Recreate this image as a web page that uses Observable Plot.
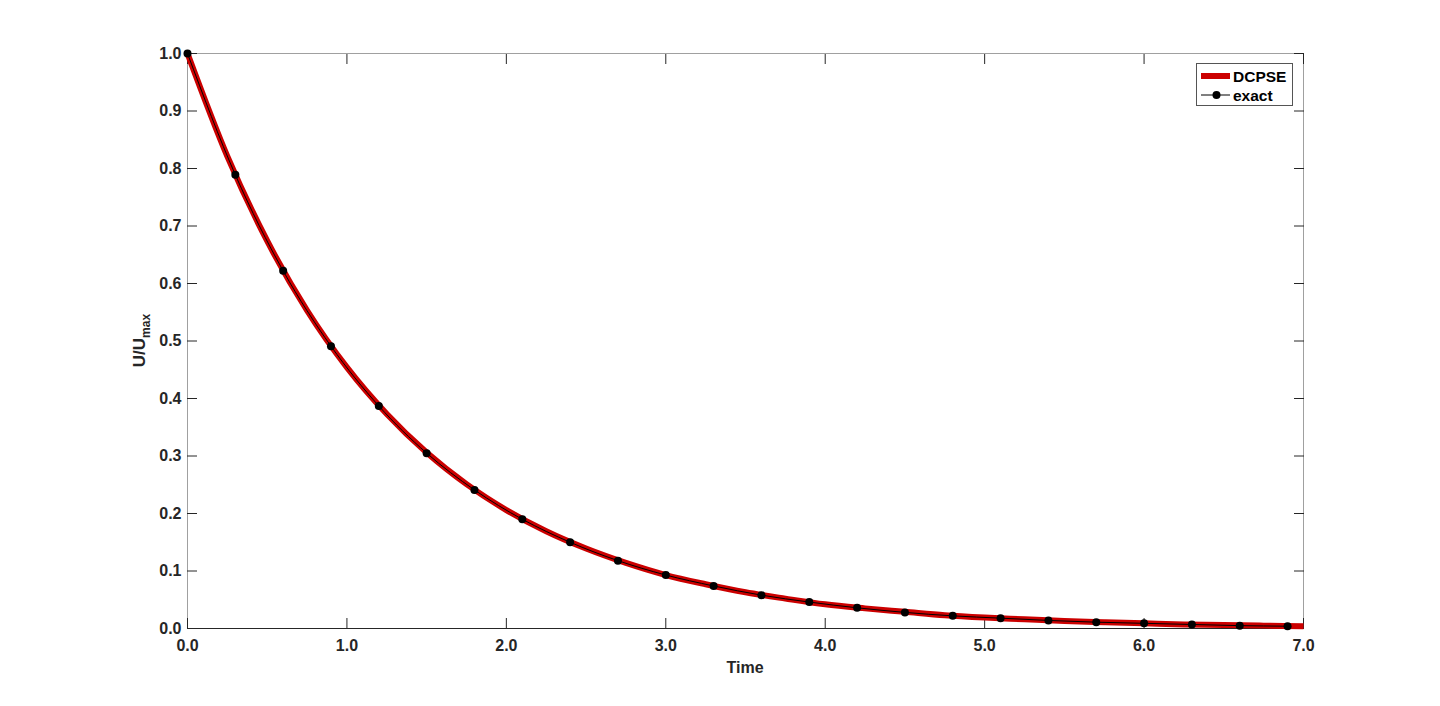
<!DOCTYPE html>
<html>
<head>
<meta charset="utf-8">
<script src="https://cdn.jsdelivr.net/npm/d3@7"></script>
<script src="https://cdn.jsdelivr.net/npm/@observablehq/plot@0.6"></script>
<style>
  body { margin: 0; background: #fff; }
  #wrap { position: relative; width: 1440px; height: 706px; font-family: "Liberation Sans", Arial, Helvetica, sans-serif; }
  .legend { position: absolute; left: 1196px; top: 63px; width: 97px; height: 43px; border: 1px solid #555; background: #fff; box-sizing: border-box; }
  .legend svg { display: block; }
</style>
</head>
<body>
<div id="wrap"></div>
<script>
// DCPSE solution
const dcpseTime = [0, 0.25, 0.5, 0.75, 1.0, 1.25, 1.5, 1.75, 2.0, 2.25, 2.5, 2.75, 3.0, 3.25, 3.5, 3.75, 4.0, 4.25, 4.5, 4.75, 5.0, 5.25, 5.5, 5.75, 6.0, 6.25, 6.5, 6.75, 7.0];
const dcpseValue = [1.000, 0.821, 0.674, 0.553, 0.454, 0.373, 0.306, 0.251, 0.206, 0.169, 0.139, 0.114, 0.093, 0.077, 0.063, 0.052, 0.042, 0.035, 0.029, 0.023, 0.019, 0.016, 0.013, 0.011, 0.009, 0.007, 0.006, 0.005, 0.004];

// exact solution markers
const exactTime = [0, 0.3, 0.6, 0.9, 1.2, 1.5, 1.8, 2.1, 2.4, 2.7, 3.0, 3.3, 3.6, 3.9, 4.2, 4.5, 4.8, 5.1, 5.4, 5.7, 6.0, 6.3, 6.6, 6.9];
const exactValue = [1.000, 0.789, 0.622, 0.491, 0.387, 0.305, 0.241, 0.190, 0.150, 0.118, 0.093, 0.074, 0.058, 0.046, 0.036, 0.028, 0.022, 0.018, 0.014, 0.011, 0.009, 0.007, 0.005, 0.004];

const xTicks = [0, 1, 2, 3, 4, 5, 6, 7];
const yTicks = [0, 0.1, 0.2, 0.3, 0.4, 0.5, 0.6, 0.7, 0.8, 0.9, 1.0];
const seriesNames = ["DCPSE", "exact"];
const xLabel = "Time";
const yLabelMain = "U/U";
const yLabelSub = "max";

const dcpse = dcpseTime.map((t, i) => ({t, v: dcpseValue[i]}));
const exact = exactTime.map((t, i) => ({t, v: exactValue[i]}));

const W = 1440, H = 706;
const mL = 187, mR = 137, mT = 53, mB = 78;
const fmt = d3.format(".1f");
const tickColor = "#262626";
const FONT = '"Liberation Sans", Arial, Helvetica, sans-serif';

const chart = Plot.plot({
  width: W,
  height: H,
  marginLeft: mL,
  marginRight: mR,
  marginTop: mT,
  marginBottom: mB,
  style: {fontFamily: FONT, fontSize: "16px", fontWeight: "bold", color: tickColor, background: "#fff"},
  x: {domain: [0, 7]},
  y: {domain: [0, 1]},
  marks: [
    Plot.frame({stroke: "#a0a0a0"}),
    Plot.ruleY([0], {stroke: "#262626"}),
    Plot.axisX(xTicks, {anchor: "bottom", tickSize: -10, tickPadding: 21, tickFormat: fmt, label: null, stroke: tickColor, fill: tickColor}),
    Plot.axisX(xTicks, {anchor: "top", tickSize: -10, tickFormat: () => "", label: null, stroke: tickColor}),
    Plot.axisY(yTicks, {anchor: "left", tickSize: -10, tickPadding: 16, tickFormat: fmt, label: null, stroke: tickColor, fill: tickColor}),
    Plot.axisY(yTicks, {anchor: "right", tickSize: -10, tickFormat: () => "", label: null, stroke: tickColor}),
    Plot.line(dcpse, {x: "t", y: "v", stroke: "#cc0000", strokeWidth: 6, strokeLinecap: "butt", curve: "monotone-x"}),
    Plot.line(exact, {x: "t", y: "v", stroke: "#000", strokeWidth: 1, curve: "monotone-x"}),
    Plot.dot(exact, {x: "t", y: "v", r: 4, fill: "#000", stroke: "none"})
  ]
});

const wrap = document.getElementById("wrap");
wrap.appendChild(chart);

// axis titles
const svg = d3.select(chart);
svg.append("text")
  .attr("x", mL + (W - mL - mR) / 2)
  .attr("y", H - mB + 45)
  .attr("text-anchor", "middle")
  .attr("fill", tickColor)
  .style("font-size", "16px")
  .style("font-weight", "bold")
  .text(xLabel);

const yl = svg.append("text")
  .attr("transform", `translate(145,${mT + (H - mT - mB) / 2}) rotate(-90)`)
  .attr("text-anchor", "middle")
  .attr("fill", tickColor)
  .style("font-size", "17px")
  .style("font-weight", "bold");
yl.append("tspan").text(yLabelMain);
yl.append("tspan").attr("dy", 5).style("font-size", "12px").text(yLabelSub);

// legend
const leg = document.createElement("div");
leg.className = "legend";
wrap.appendChild(leg);
const ls = d3.select(leg).append("svg").attr("width", 95).attr("height", 41);
const rows = [
  {name: seriesNames[0], y: 12, draw: g => g.append("line").attr("x1", 4).attr("x2", 33).attr("stroke", "#cc0000").attr("stroke-width", 6)},
  {name: seriesNames[1], y: 31, draw: g => { g.append("line").attr("x1", 4).attr("x2", 33).attr("stroke", "#000").attr("stroke-width", 1); g.append("circle").attr("cx", 19.5).attr("r", 4).attr("fill", "#000"); }}
];
rows.forEach(r => {
  const g = ls.append("g").attr("transform", `translate(0,${r.y})`);
  r.draw(g);
  g.append("text").attr("x", 36).attr("dy", "0.36em").attr("fill", "#000")
    .style("font-family", FONT)
    .style("font-size", "15.5px").style("font-weight", "bold").text(r.name);
});
</script>
</body>
</html>
